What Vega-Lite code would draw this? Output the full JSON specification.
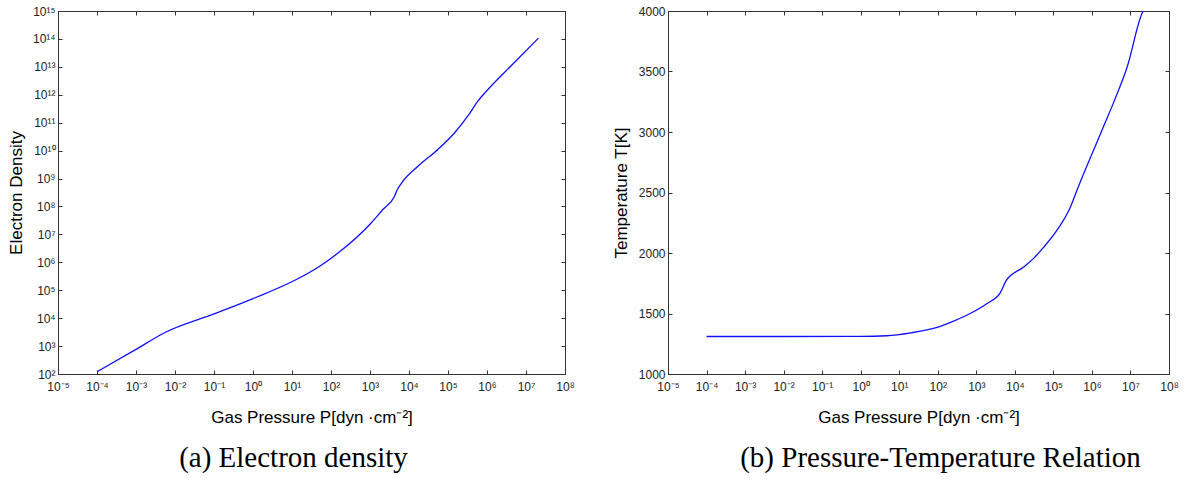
{
  "$schema": "https://vega.github.io/schema/vega-lite/v6.json",
  "padding": {"left": 7, "top": 4, "right": 0, "bottom": 0},
  "spacing": 36,
  "config": {
    "view": {"stroke": "#333", "strokeWidth": 1},
    "axis": {
      "domain": false,
      "grid": false,
      "tickSize": -4,
      "tickColor": "#333",
      "labelFont": "Liberation Sans",
      "labelFontSize": 12,
      "labelColor": "#222",
      "labelOverlap": false,
      "labelFlush": false,
      "titleFont": "Liberation Sans",
      "titleFontSize": 17,
      "titleFontWeight": "normal",
      "titleColor": "#000"
    },
    "title": {"font": "Liberation Serif", "fontSize": 29, "fontWeight": "normal", "color": "#000"}
  },
  "hconcat": [
    {
      "width": 507,
      "height": 363,
      "title": {"text": "(a) Electron density", "orient": "bottom", "offset": 19, "dx": -18},
      "data": {"values": [
        {"P": 1e-4, "Ne": 120},
        {"P": 1e-3, "Ne": 759},
        {"P": 5.25e-3, "Ne": 2951},
        {"P": 0.1, "Ne": 14125},
        {"P": 1, "Ne": 50119},
        {"P": 14.1, "Ne": 257040},
        {"P": 50.1, "Ne": 707946},
        {"P": 151, "Ne": 2.14e6},
        {"P": 1072, "Ne": 2.57e7},
        {"P": 2138, "Ne": 7.76e7},
        {"P": 4266, "Ne": 2.34e8},
        {"P": 5012, "Ne": 3.98e8},
        {"P": 6310, "Ne": 6.61e8},
        {"P": 16982, "Ne": 2.75e9},
        {"P": 54954, "Ne": 1.10e10},
        {"P": 147911, "Ne": 4.37e10},
        {"P": 323594, "Ne": 1.74e11},
        {"P": 588844, "Ne": 6.03e11},
        {"P": 1.07e6, "Ne": 1.58e12},
        {"P": 4.17e6, "Ne": 1.10e13},
        {"P": 2.09e7, "Ne": 1.07e14}
      ]},
      "layer": [
        {
          "mark": {"type": "line", "color": "#1010ff", "strokeWidth": 1.3, "interpolate": "monotone"},
          "encoding": {
            "x": {"field": "P", "type": "quantitative",
              "scale": {"type": "log", "domain": [1e-5, 1e8], "nice": false},
              "axis": {"orient": "bottom",
                "values": [1e-5, 1e-4, 1e-3, 1e-2, 1e-1, 1, 10, 100, 1000, 10000, 100000, 1000000, 10000000, 100000000],
                "labelExpr": "'10' + (datum.value < 1 ? '⁻' : '') + (abs(round(log(datum.value)/LN10)) >= 10 ? '¹' : '') + substring('⁰¹²³⁴⁵⁶⁷⁸⁹', abs(round(log(datum.value)/LN10)) % 10, abs(round(log(datum.value)/LN10)) % 10 + 1)",
                "labelPadding": 11, "titlePadding": 17,
                "title": "Gas Pressure P[dyn ·cm⁻²]"}},
            "y": {"field": "Ne", "type": "quantitative",
              "scale": {"type": "log", "domain": [1e2, 1e15], "nice": false},
              "axis": {"orient": "left",
                "values": [1e2, 1e3, 1e4, 1e5, 1e6, 1e7, 1e8, 1e9, 1e10, 1e11, 1e12, 1e13, 1e14, 1e15],
                "labelExpr": "'10' + (datum.value < 1 ? '⁻' : '') + (abs(round(log(datum.value)/LN10)) >= 10 ? '¹' : '') + substring('⁰¹²³⁴⁵⁶⁷⁸⁹', abs(round(log(datum.value)/LN10)) % 10, abs(round(log(datum.value)/LN10)) % 10 + 1)",
                "labelPadding": 7, "titlePadding": 7,
                "title": "Electron Density"}}
          }
        },
        {
          "mark": {"type": "line", "opacity": 0},
          "encoding": {
            "x": {"field": "P", "type": "quantitative",
              "scale": {"type": "log", "domain": [1e-5, 1e8], "nice": false},
              "axis": {"orient": "top", "labels": false, "title": null,
                "values": [1e-5, 1e-4, 1e-3, 1e-2, 1e-1, 1, 10, 100, 1000, 10000, 100000, 1000000, 10000000, 100000000]}},
            "y": {"field": "Ne", "type": "quantitative",
              "scale": {"type": "log", "domain": [1e2, 1e15], "nice": false},
              "axis": {"orient": "right", "labels": false, "title": null,
                "values": [1e2, 1e3, 1e4, 1e5, 1e6, 1e7, 1e8, 1e9, 1e10, 1e11, 1e12, 1e13, 1e14, 1e15]}}
          }
        }
      ],
      "resolve": {"axis": {"x": "independent", "y": "independent"}}
    },
    {
      "width": 501,
      "height": 363,
      "title": {"text": "(b) Pressure-Temperature Relation", "orient": "bottom", "offset": 19, "dx": 22},
      "data": {"values": [
        {"P": 1e-4, "T": 1310},
        {"P": 1e-2, "T": 1310},
        {"P": 1, "T": 1311},
        {"P": 4.79, "T": 1316},
        {"P": 20, "T": 1340},
        {"P": 95.5, "T": 1385},
        {"P": 257, "T": 1437},
        {"P": 692, "T": 1500},
        {"P": 1905, "T": 1583},
        {"P": 4169, "T": 1670},
        {"P": 5888, "T": 1769},
        {"P": 16982, "T": 1885},
        {"P": 31623, "T": 1960},
        {"P": 56234, "T": 2049},
        {"P": 123027, "T": 2187},
        {"P": 275423, "T": 2379},
        {"P": 407380, "T": 2517},
        {"P": 1.66e6, "T": 2984},
        {"P": 4.47e6, "T": 3313},
        {"P": 8.13e6, "T": 3533},
        {"P": 1.95e7, "T": 3973},
        {"P": 2.09e7, "T": 3995}
      ]},
      "layer": [
        {
          "mark": {"type": "line", "color": "#1010ff", "strokeWidth": 1.3, "interpolate": "monotone"},
          "encoding": {
            "x": {"field": "P", "type": "quantitative",
              "scale": {"type": "log", "domain": [1e-5, 1e8], "nice": false},
              "axis": {"orient": "bottom",
                "values": [1e-5, 1e-4, 1e-3, 1e-2, 1e-1, 1, 10, 100, 1000, 10000, 100000, 1000000, 10000000, 100000000],
                "labelExpr": "'10' + (datum.value < 1 ? '⁻' : '') + (abs(round(log(datum.value)/LN10)) >= 10 ? '¹' : '') + substring('⁰¹²³⁴⁵⁶⁷⁸⁹', abs(round(log(datum.value)/LN10)) % 10, abs(round(log(datum.value)/LN10)) % 10 + 1)",
                "labelPadding": 11, "titlePadding": 17,
                "title": "Gas Pressure P[dyn ·cm⁻²]"}},
            "y": {"field": "T", "type": "quantitative",
              "scale": {"domain": [1000, 4000], "nice": false, "zero": false},
              "axis": {"orient": "left",
                "values": [1000, 1500, 2000, 2500, 3000, 3500, 4000],
                "format": "d",
                "labelPadding": 7, "titlePadding": 8,
                "title": "Temperature T[K]"}}
          }
        },
        {
          "mark": {"type": "line", "opacity": 0},
          "encoding": {
            "x": {"field": "P", "type": "quantitative",
              "scale": {"type": "log", "domain": [1e-5, 1e8], "nice": false},
              "axis": {"orient": "top", "labels": false, "title": null,
                "values": [1e-5, 1e-4, 1e-3, 1e-2, 1e-1, 1, 10, 100, 1000, 10000, 100000, 1000000, 10000000, 100000000]}},
            "y": {"field": "T", "type": "quantitative",
              "scale": {"domain": [1000, 4000], "nice": false, "zero": false},
              "axis": {"orient": "right", "labels": false, "title": null,
                "values": [1000, 1500, 2000, 2500, 3000, 3500, 4000]}}
          }
        }
      ],
      "resolve": {"axis": {"x": "independent", "y": "independent"}}
    }
  ]
}
